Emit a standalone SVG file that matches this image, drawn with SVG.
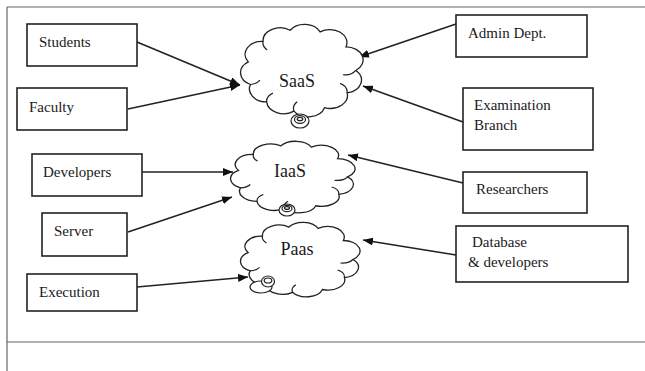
<svg xmlns="http://www.w3.org/2000/svg" width="645" height="371" viewBox="0 0 645 371">
<style>
.frame{stroke:#666;stroke-width:1.2;fill:none}
.box{fill:#fff;stroke:#222;stroke-width:1.6}
.lbl{font-size:15px;fill:#1a1a1a}
.clbl{font-size:18px;fill:#1a1a1a;text-anchor:middle}
.cl{fill:#fff;stroke:#222;stroke-width:1.3;vector-effect:non-scaling-stroke}
.cd{fill:none;stroke:#222;stroke-width:1.2;vector-effect:non-scaling-stroke}
.ring{fill:#fff;stroke:#222;stroke-width:1.2}
.conn{stroke:#222;stroke-width:1.6;fill:none;marker-end:url(#ah)}
</style>
<defs>
<marker id="ah" markerUnits="userSpaceOnUse" markerWidth="10" markerHeight="8" refX="10" refY="4" orient="auto">
<path d="M0,0 L10,4 L0,8 Z" fill="#111"/>
</marker>
<path id="cloudShape" class="cl" d="M88,50 A12,12 0 0 1 81.9,70.7 A12,12 0 0 1 66.1,84.4 A12,12 0 0 1 44.7,87.6 A12,12 0 0 1 25.6,79.1 A12,12 0 0 1 14.3,63 A12,12 0 0 1 12.8,42.1 A12,12 0 0 1 23.1,23.1 A12,12 0 0 1 42.1,12.8 A12,12 0 0 1 63,14.3 A12,12 0 0 1 81.1,28.2 A12,12 0 0 1 88,50 Z"/>
<path id="cloudDetail" class="cd" d="M88,50 A9,9 0 0 1 79,54 M81.9,70.7 A9,9 0 0 0 77,62 M44.7,87.6 A9,9 0 0 1 47,79 M25.6,79.1 A9,9 0 0 1 30,71 M14.3,63 A9,9 0 0 0 21,59 M23.1,23.1 A9,9 0 0 0 26,31"/>
</defs>

<g id="frame">
<line class="frame" x1="7" y1="7" x2="645" y2="7"/>
<line class="frame" x1="7" y1="7" x2="7" y2="371"/>
<line class="frame" x1="7" y1="342" x2="645" y2="342"/>
</g>

<g id="connectors">
<line class="conn" x1="137" y1="42" x2="240" y2="85"/>
<line class="conn" x1="128" y1="109" x2="240" y2="85"/>
<line class="conn" x1="142" y1="172" x2="233" y2="172"/>
<line class="conn" x1="128" y1="232" x2="232" y2="197"/>
<line class="conn" x1="137" y1="287" x2="248" y2="277"/>
<line class="conn" x1="456" y1="24" x2="359" y2="57"/>
<line class="conn" x1="463" y1="122" x2="363" y2="86"/>
<line class="conn" x1="463" y1="183" x2="348" y2="155"/>
<line class="conn" x1="456" y1="255" x2="363" y2="240"/>
</g>

<g font-family="'Liberation Serif', 'DejaVu Serif', serif">
<g id="saas">
<g transform="translate(230,16.4) scale(1.43,1.081)">
<use href="#cloudShape"/><use href="#cloudDetail"/>
</g>
<ellipse class="ring" cx="300" cy="121" rx="9" ry="7"/>
<ellipse class="ring" cx="300" cy="119.5" rx="5.5" ry="3.8"/>
<ellipse class="ring" cx="300" cy="119" rx="2.8" ry="1.7"/>
<text class="clbl" x="297" y="87">SaaS</text>
</g>

<g id="iaas">
<g transform="translate(219.8,135.1) scale(1.453,0.837)">
<use href="#cloudShape"/><use href="#cloudDetail"/>
</g>
<ellipse class="ring" cx="287" cy="210" rx="8" ry="6"/>
<ellipse class="ring" cx="287" cy="208.5" rx="5" ry="3.2"/>
<ellipse class="ring" cx="287" cy="208" rx="2.5" ry="1.4"/>
<text class="clbl" x="290" y="177">IaaS</text>
</g>

<g id="paas">
<g transform="translate(230.2,215.9) scale(1.395,0.872)">
<use href="#cloudShape"/><use href="#cloudDetail"/>
</g>
<ellipse class="ring" cx="261" cy="287" rx="11" ry="6"/>
<ellipse class="ring" cx="268" cy="281.5" rx="6.5" ry="5.5"/>
<ellipse class="ring" cx="268" cy="280.5" rx="3.8" ry="2.5"/>
<text class="clbl" x="297" y="255">Paas</text>
</g>

<g id="students"><rect class="box" x="27" y="24" width="110" height="42"/><text class="lbl" x="39" y="47">Students</text></g>
<g id="faculty"><rect class="box" x="17" y="88" width="110" height="42"/><text class="lbl" x="29" y="112">Faculty</text></g>
<g id="developers"><rect class="box" x="32" y="154" width="110" height="42"/><text class="lbl" x="43" y="177">Developers</text></g>
<g id="server"><rect class="box" x="42" y="213" width="85" height="43"/><text class="lbl" x="54" y="236">Server</text></g>
<g id="execution"><rect class="box" x="27" y="274" width="110" height="37"/><text class="lbl" x="39" y="297">Execution</text></g>
<g id="admin"><rect class="box" x="456" y="15" width="131" height="42"/><text class="lbl" x="468" y="38">Admin Dept.</text></g>
<g id="exam"><rect class="box" x="463" y="88" width="130" height="62"/><text class="lbl" x="474" y="110">Examination</text><text class="lbl" x="474" y="130">Branch</text></g>
<g id="researchers"><rect class="box" x="463" y="172" width="124" height="41"/><text class="lbl" x="476" y="194">Researchers</text></g>
<g id="database"><rect class="box" x="456" y="226" width="172" height="56"/><text class="lbl" x="472" y="247">Database</text><text class="lbl" x="468" y="267">&amp; developers</text></g>
</g>
</svg>
